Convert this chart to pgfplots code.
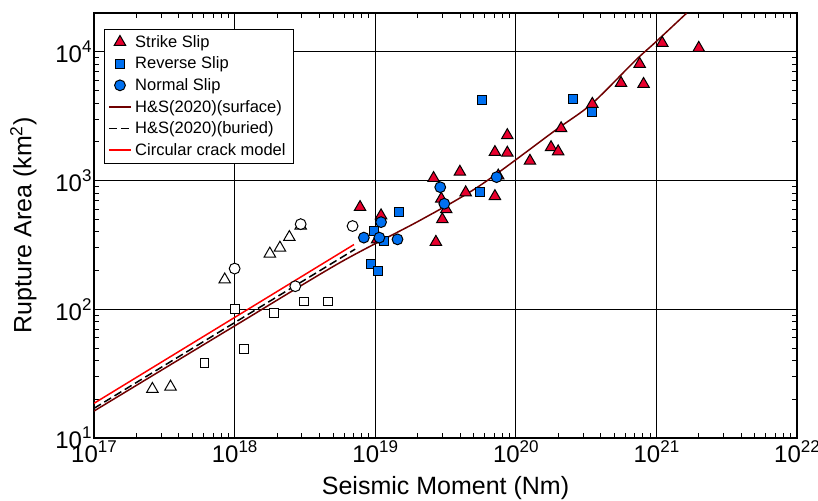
\documentclass[border=0pt]{standalone}
\usepackage{fontspec}
\setmainfont{Liberation Sans}
\usepackage{pgfplots}
\pgfplotsset{compat=1.18}
\definecolor{ssred}{RGB}{232,0,45}
\definecolor{rsblue}{RGB}{0,112,240}
\definecolor{hsbrown}{RGB}{112,0,0}
\newcommand{\tp}[1]{10\raisebox{0.42em}{\fontsize{17bp}{17bp}\selectfont #1}}
\begin{document}
\begin{tikzpicture}
\useasboundingbox (-94bp,-63bp) rectangle (724bp,438bp);
\begin{axis}[
  at={(0,0)}, anchor=south west,
  scale only axis, width=703bp, height=425bp,
  xmode=log, ymode=log,
  xmin=1e17, xmax=1e22, ymin=10, ymax=2e4,
  xtick={1e17,1e18,1e19,1e20,1e21,1e22},
  xticklabels={\tp{17},\tp{18},\tp{19},\tp{20},\tp{21},\tp{22}},
  ytick={10,100,1000,10000},
  yticklabels={\tp{1},\tp{2},\tp{3},\tp{4}},
  ticklabel style={font=\fontsize{24bp}{26bp}\selectfont},
  yticklabel style={xshift=1bp},
  xticklabel style={yshift=1bp},
  label style={font=\fontsize{25bp}{28bp}\selectfont},
  xlabel={Seismic Moment (Nm)},
  ylabel={Rupture Area (km\textsuperscript{2})},
  xlabel style={yshift=-7bp},
  ylabel style={yshift=12bp},
  grid=major,
  major grid style={black, line width=0.75bp},
  axis line style={line width=1.1bp},
  every tick/.style={black, line width=0.7bp},
  minor tick length=5bp, major tick length=6bp,
  legend cell align=left,
  legend image code/.code={\draw[mark repeat=2,mark phase=2,#1] plot coordinates {(0bp,0bp) (11bp,0bp) (22bp,0bp)};},
  legend style={at={(0.0142,0.962)}, anchor=north west, draw=black,
    font=\fontsize{16.5bp}{18bp}\selectfont, row sep=4.2bp, inner xsep=4bp, inner ysep=4bp,
    nodes={inner xsep=3.5bp}},
]
% open symbols
\addplot[only marks, mark=triangle, mark size=6.6bp, draw=black, fill=white, line width=1bp, forget plot] coordinates {
 (2.6e17,24) (3.5e17,25) (8.5e17,170) (1.78e18,270) (2.1e18,300) (2.45e18,363) (2.95e18,445)};
\addplot[only marks, mark=*, mark size=5.4bp, draw=black, fill=white, line width=1bp, forget plot] coordinates {
 (1e18,207) (2.95e18,458) (6.9e18,443) (2.7e18,151)};
\addplot[only marks, mark=square*, mark size=4.4bp, draw=black, fill=white, line width=1bp, forget plot] coordinates {
 (1e18,100) (1.9e18,94) (3.1e18,115) (4.6e18,115) (1.16e18,49) (6.1e17,38)};
% filled symbols
\addplot[only marks, mark=triangle*, mark size=6.6bp, draw=black, fill=ssred, line width=1bp] coordinates {
 (1.1e21,11700) (2.0e21,10700) (7.6e20,8030) (5.6e20,5710) (8.1e20,5610)
 (3.5e20,3930) (2.1e20,2540) (8.7e19,2245) (7.1e19,1660) (8.7e19,1640)
 (1.78e20,1810) (2.0e20,1680) (1.26e20,1420) (4.0e19,1167) (2.6e19,1043)
 (4.4e19,807) (7.1e19,755) (7.8e18,621) (1.1e19,535) (2.95e19,721)
 (3.2e19,596) (3.0e19,499) (2.7e19,333) (1.03e19,347) (7.5e19,1090)};
\addlegendentry{Strike Slip}
\addplot[only marks, mark=square*, mark size=4.5bp, draw=black, fill=rsblue, line width=1bp] coordinates {
 (5.75e19,4245) (2.57e20,4300) (3.47e20,3430) (5.6e19,817) (1.48e19,565)
 (9.8e18,403) (1.15e19,339) (9.3e18,224) (1.04e19,198)};
\addlegendentry{Reverse Slip}
\addplot[only marks, mark=*, mark size=5.4bp, draw=black, fill=rsblue, line width=1bp] coordinates {
 (7.3e19,1062) (2.9e19,887) (3.1e19,660) (1.1e19,475) (8.3e18,360)
 (1.07e19,360) (1.44e19,349)};
\addlegendentry{Normal Slip}
% model curves
\addplot[hsbrown, line width=1.5bp, smooth, no marks] coordinates {
 (1e17,16.2) (1e18,74.2) (5.6e18,230) (2.08e19,490) (5.56e19,914)
 (1.9e20,2443) (3.48e20,3954) (7.05e20,8511) (9.94e20,11970) (1.64e21,19950)};
\addlegendentry{H\&S(2020)(surface)}
\addplot[black, line width=1.5bp, dash pattern=on 8bp off 4bp, no marks] coordinates {
 (1e17,17.0) (7.2e18,293)};
\addlegendentry{H\&S(2020)(buried)}
\addplot[red, line width=1.5bp, no marks] coordinates {
 (1e17,18.6) (7.06e18,318)};
\addlegendentry{Circular crack model}
\end{axis}
\end{tikzpicture}
\end{document}
